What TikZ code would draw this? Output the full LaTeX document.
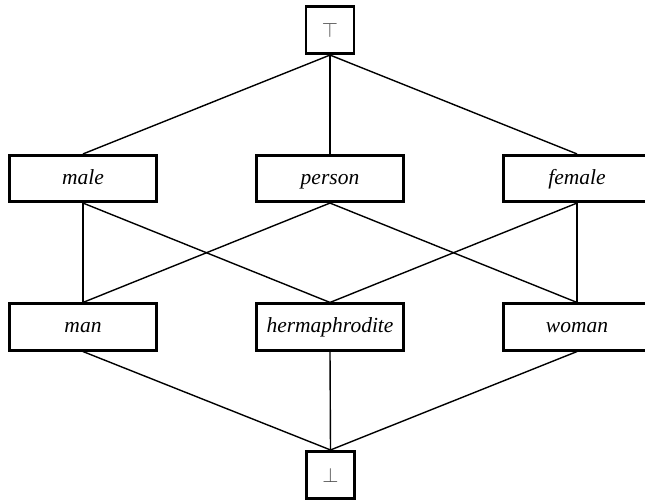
\documentclass[tikz,border=0pt]{standalone}
\usepackage{fontspec}
\setmainfont{Liberation Serif}
\begin{document}
\begin{tikzpicture}[x=1pt,y=1pt,
  cbox/.style={draw,line width=2.6pt,rectangle,minimum width=147.5pt,minimum height=46.5pt,inner sep=0pt,
    text height=15pt,text depth=4pt,
    font=\fontsize{21.5}{24}\selectfont\itshape},
  sbox/.style={draw,line width=2.6pt,rectangle,minimum width=48pt,minimum height=47.5pt,inner sep=0pt,
    font=\fontsize{22}{24}\selectfont,text=black!70},
  link/.style={line width=1.4pt}]
\useasboundingbox (0,0) rectangle (645,499);
\node[sbox] (top) at (330,469) {$\top$};
\node[cbox] (male) at (83,320.5) {male};
\node[cbox] (person) at (330,320.5) {person};
\node[cbox] (female) at (577,320.5) {female};
\node[cbox] (man) at (83,172) {man};
\node[cbox] (herm) at (330,172) {hermaphrodite};
\node[cbox] (woman) at (577,172) {woman};
\node[sbox] (bot) at (330.5,24) {$\bot$};
\draw[link] (top.south) -- (male.north);
\draw[link] (top.south) -- (person.north);
\draw[link] (top.south) -- (female.north);
\draw[link] (male.south) -- (man.north);
\draw[link] (male.south) -- (herm.north);
\draw[link] (person.south) -- (man.north);
\draw[link] (person.south) -- (woman.north);
\draw[link] (female.south) -- (herm.north);
\draw[link] (female.south) -- (woman.north);
\draw[link] (man.south) -- (bot.north);
\draw[link] (herm.south) -- (bot.north);
\draw[link] (woman.south) -- (bot.north);
\end{tikzpicture}
\end{document}
